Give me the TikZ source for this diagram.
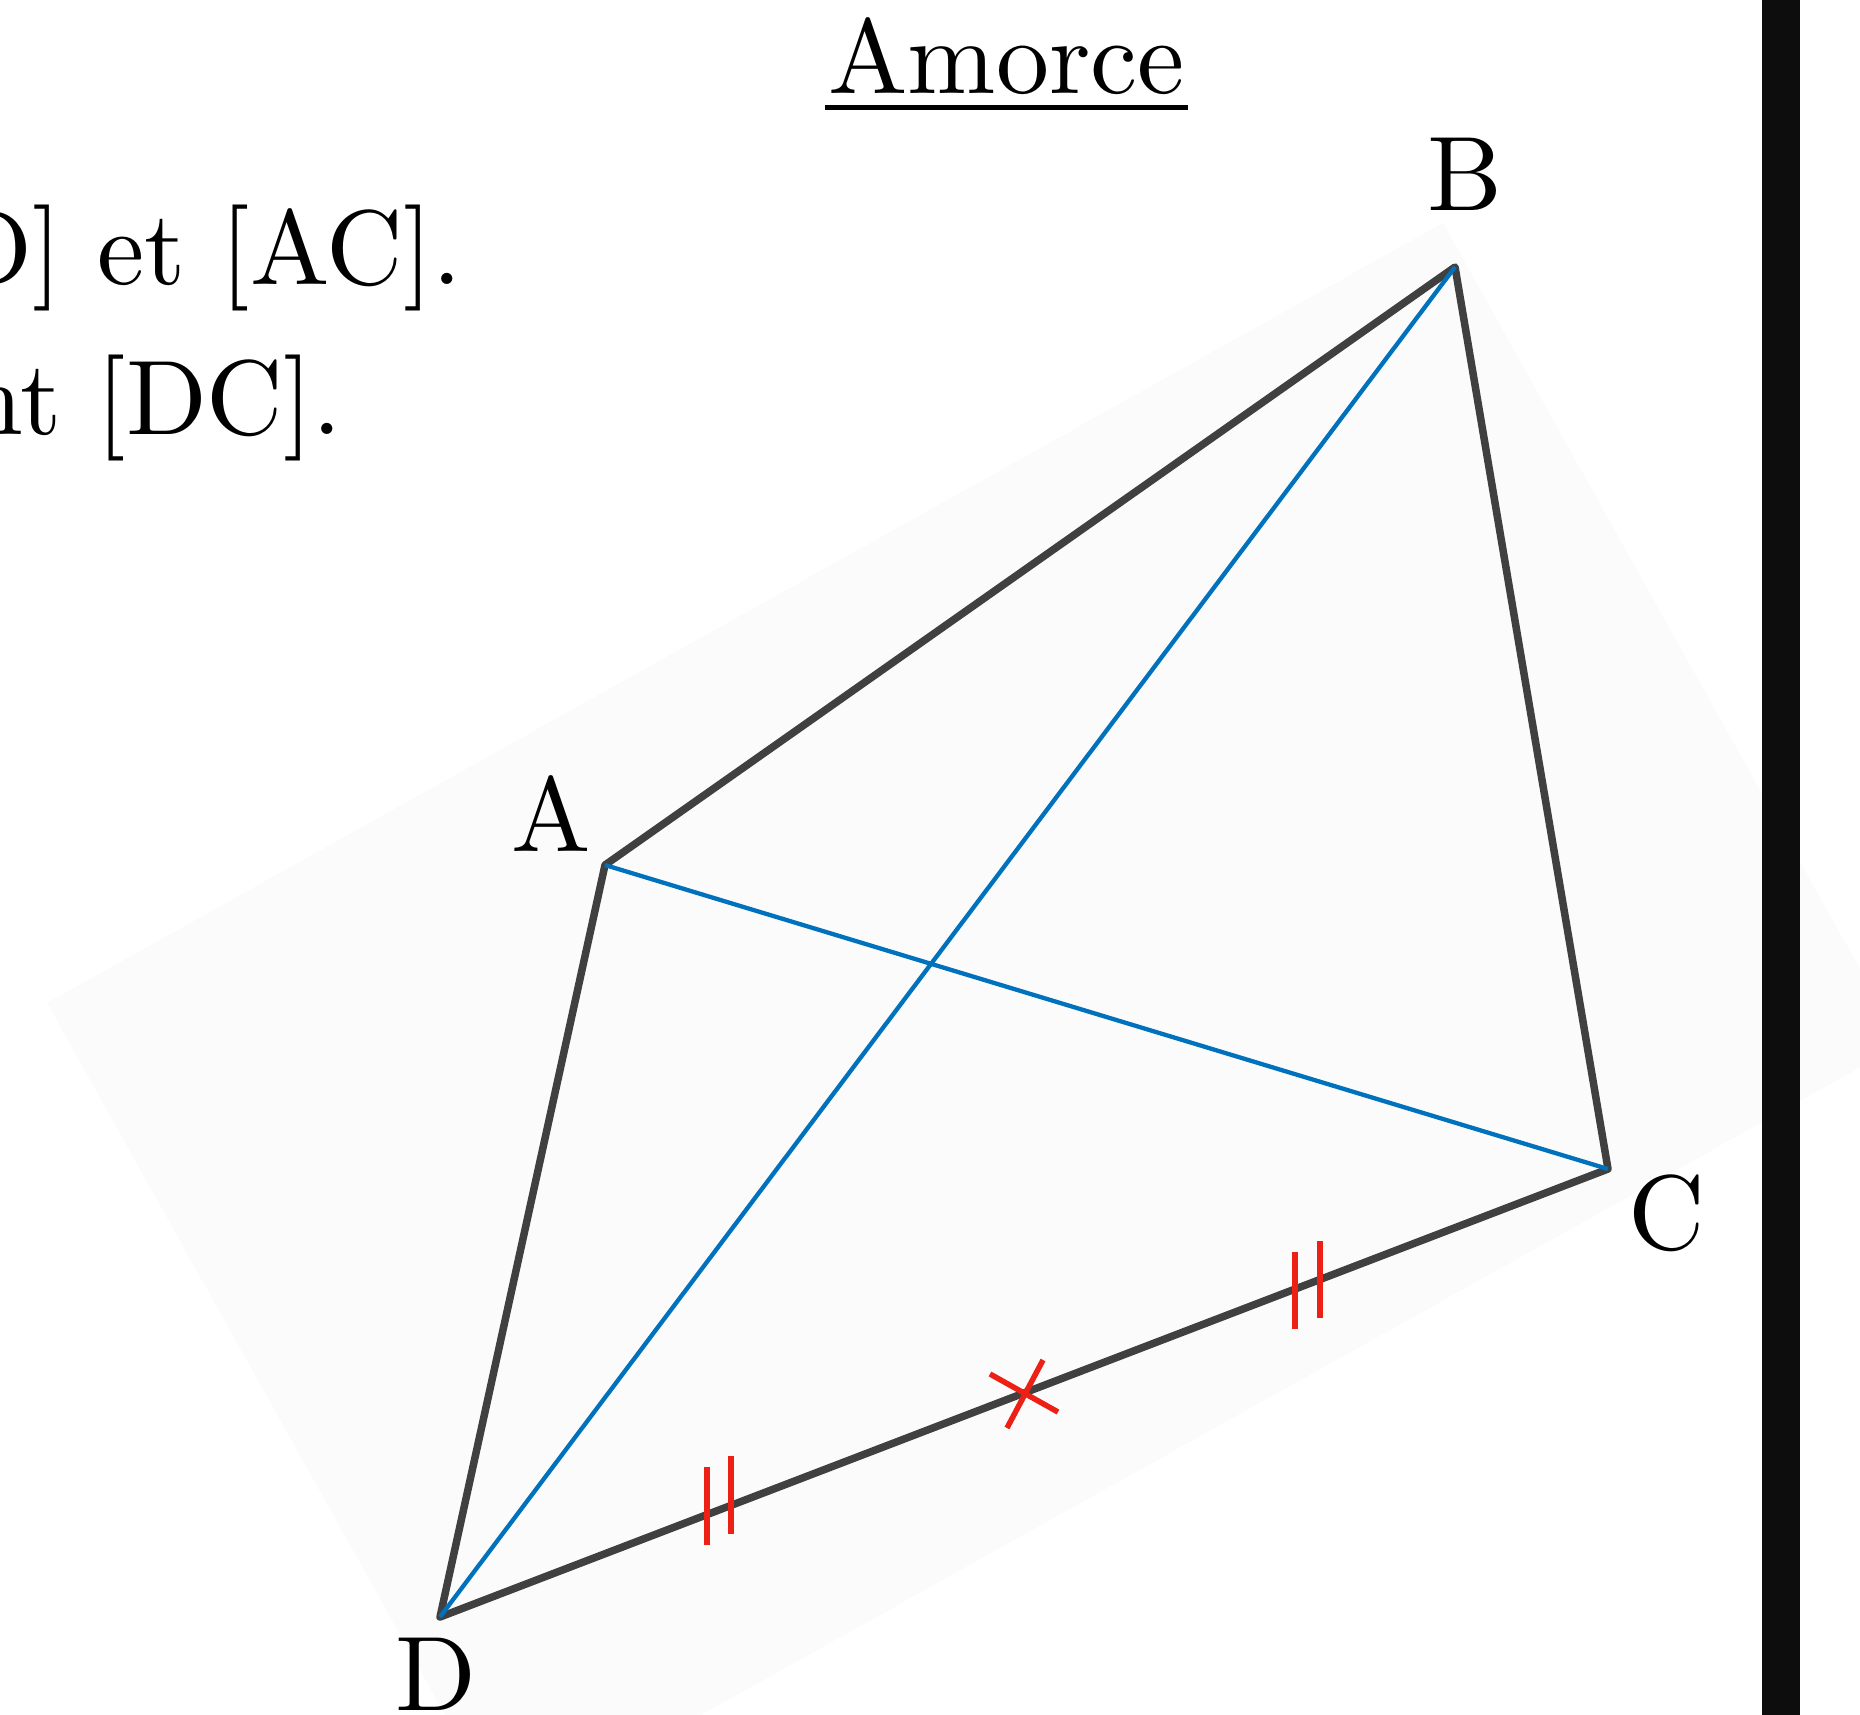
\documentclass[tikz,border=0pt]{standalone}
\usetikzlibrary{calc}
\definecolor{bgpaper}{RGB}{251,251,251}
\definecolor{sidecol}{RGB}{64,64,64}
\definecolor{diagcol}{RGB}{0,114,189}
\definecolor{markcol}{RGB}{236,32,20}
\definecolor{barcol}{RGB}{13,13,13}
\font\labfont=cmr10 at 106pt
\begin{document}
\begin{tikzpicture}[x=1pt,y=-1pt,
  txt/.style={inner sep=0pt,font=\labfont},
  side/.style={draw=sidecol,line width=7.5pt,line join=round,line cap=round},
  diag/.style={draw=diagcol,line width=4.3pt},
  markline/.style={draw=markcol,line width=5.5pt}]
\useasboundingbox (0,0) rectangle (1860,1714);
\clip (0,0) rectangle (1860,1714);
% faint rotated sheet
\fill[bgpaper] (47,1003) -- (1443,223) -- (1902,1044) -- (506,1824) -- cycle;
% bar on the right
\fill[barcol] (1762,-5) rectangle (1800,1720);
% title
\node[txt,anchor=base west] (title) at (828,93) {Amorce};
\draw[line width=5pt] ([xshift=-3pt,yshift=-14pt]title.base west) -- ([xshift=3pt,yshift=-14pt]title.base east);
% cut text
\node[txt,anchor=base east] (line1) at (463,284) {D] et [AC].};
\node[txt,anchor=base east] (line2) at (343,434) {nt [DC].};
% vertices
\coordinate (A) at (605,865);
\coordinate (B) at (1455,267);
\coordinate (C) at (1608,1169);
\coordinate (D) at (440,1617);
\coordinate (M) at ($(D)!0.5!(C)$);
% labels
\node[txt,anchor=base] (lA) at (551,851) {A};
\node[txt,anchor=base] (lB) at (1465,210) {B};
\node[txt,anchor=base] (lC) at (1667,1249) {C};
\node[txt,anchor=base] (lD) at (436,1710) {D};
% sides
\draw[side] (A) -- (B) -- (C) -- (D) -- cycle;
% diagonals
\draw[diag] (A) -- (C);
\draw[diag] (B) -- (D);
% marks
\draw[markline] ($(D)!0.2286!(C)$) ++(0,-48) -- ++(0,78);
\draw[markline] ($(D)!0.2491!(C)$) ++(0,-49) -- ++(0,78);
\draw[markline] ($(D)!0.7320!(C)$) ++(0,-37) -- ++(0,77);
\draw[markline] ($(D)!0.7534!(C)$) ++(0,-38) -- ++(0,77);
\draw[markline] ($(M)+(-34,-19)$) -- ($(M)+(34,19)$);
\draw[markline] ($(M)+(19,-33)$) -- ($(M)+(-17,35)$);
\end{tikzpicture}
\end{document}
